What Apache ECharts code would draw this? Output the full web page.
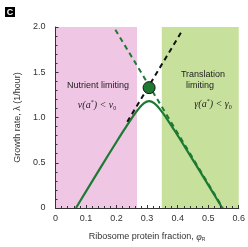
<!DOCTYPE html>
<html><head><meta charset="utf-8">
<script src="https://cdn.jsdelivr.net/npm/echarts@6/dist/echarts.min.js"></script>
<style>html,body{margin:0;padding:0;background:#fff}#c{width:248px;height:247px}</style>
</head><body><div id="c"></div>
<script>
// Data
var phiR = [0.067, 0.1, 0.15, 0.2, 0.225, 0.25, 0.27, 0.29, 0.3065, 0.323, 0.343, 0.363, 0.388, 0.413, 0.463, 0.513, 0.546];
var growth = [0, 0.184, 0.46, 0.732, 0.865, 0.993, 1.087, 1.159, 1.182, 1.159, 1.087, 0.993, 0.865, 0.732, 0.46, 0.184, 0];
var translationAsymptote = [[0.196, 1.97], [0.548, 0]];
var nutrientAsymptote = [[0.235, 0.952], [0.413, 1.95]];
var crossingPoint = [[0.3065, 1.33]];
var nutrientRegion = [0, 0.267];
var translationRegion = [0.348, 0.6];
var xTicks = ['0', '0.1', '0.2', '0.3', '0.4', '0.5', '0.6'];
var yTicks = ['0', '0.5', '1.0', '1.5', '2.0'];

var chart = echarts.init(document.getElementById('c'));
var green = '#1d7a32';
var font = 'Liberation Sans, Arial, sans-serif';
var serif = 'Liberation Serif, Times New Roman, serif';
chart.setOption({
  animation: false,
  grid: {left: 55.5, right: 7, top: 27, bottom: 32},
  xAxis: {
    type: 'value', min: 0, max: 0.6, interval: 0.1, z: 10,
    axisLine: {lineStyle: {color: '#333', width: 1}},
    axisTick: {inside: true, length: 3, lineStyle: {color: '#333'}},
    minorTick: {show: true, splitNumber: 5, length: 2, lineStyle: {color: '#333'}},
    splitLine: {show: false},
    axisLabel: {margin: 6, fontSize: 9, fontFamily: font, color: '#333',
      formatter: function (v) { return xTicks[Math.round(v * 10)]; }},
    name: 'Ribosome protein fraction, {i|φ}{s|R}', nameLocation: 'middle', nameGap: 24,
    nameTextStyle: {fontSize: 9, fontFamily: font, color: '#333',
      rich: {i: {fontSize: 10, fontStyle: 'italic', fontFamily: serif, color: '#333'},
             s: {fontSize: 5, verticalAlign: 'bottom', padding: [4, 0, 0, 0], color: '#333'}}}
  },
  yAxis: {
    type: 'value', min: 0, max: 2, interval: 0.5, z: 10,
    axisLine: {show: true, lineStyle: {color: '#333', width: 1}},
    axisTick: {show: true, inside: true, length: 3, lineStyle: {color: '#333'}},
    minorTick: {show: true, splitNumber: 5, length: 2, lineStyle: {color: '#333'}},
    splitLine: {show: false},
    axisLabel: {margin: 10, fontSize: 9, fontFamily: font, color: '#333',
      formatter: function (v) { return yTicks[Math.round(v * 2)]; }},
    name: 'Growth rate, λ (1/hour)', nameLocation: 'middle', nameGap: 30, nameRotate: 90,
    nameTextStyle: {fontSize: 9, fontFamily: font, color: '#333'}
  },
  graphic: [
    {type: 'rect', shape: {x: 5, y: 7, width: 10, height: 10}, style: {fill: '#000'}},
    {type: 'text', x: 10, y: 12.5, style: {text: 'C', fill: '#fff', font: 'bold 9px ' + font, align: 'center', verticalAlign: 'middle'}},
    {type: 'text', x: 98, y: 86, z: 10, style: {text: 'Nutrient limiting', fill: '#222', font: '9px ' + font, align: 'center', verticalAlign: 'middle'}},
    {type: 'text', x: 97, y: 105, z: 10, style: {text: '{i|ν(a}{sup|*}{i|) < ν}{sub|0}', align: 'center', verticalAlign: 'middle',
      rich: {i: {fontSize: 10, fontStyle: 'italic', fontFamily: serif, fill: '#222'},
             sup: {fontSize: 6, fontFamily: serif, fill: '#222', verticalAlign: 'top', padding: [0, 0, 6, 0]},
             sub: {fontSize: 6, fontFamily: serif, fill: '#222', verticalAlign: 'bottom', padding: [4, 0, 0, 0]}}}},
    {type: 'text', x: 203, y: 75, z: 10, style: {text: 'Translation', fill: '#222', font: '9px ' + font, align: 'center', verticalAlign: 'middle'}},
    {type: 'text', x: 200, y: 86, z: 10, style: {text: 'limiting', fill: '#222', font: '9px ' + font, align: 'center', verticalAlign: 'middle'}},
    {type: 'text', x: 213, y: 104, z: 10, style: {text: '{i|γ(a}{sup|*}{i|) < γ}{sub|0}', align: 'center', verticalAlign: 'middle',
      rich: {i: {fontSize: 10, fontStyle: 'italic', fontFamily: serif, fill: '#222'},
             sup: {fontSize: 6, fontFamily: serif, fill: '#222', verticalAlign: 'top', padding: [0, 0, 6, 0]},
             sub: {fontSize: 6, fontFamily: serif, fill: '#222', verticalAlign: 'bottom', padding: [4, 0, 0, 0]}}}}
  ],
  series: [
    {type: 'line', data: [], z: 1, silent: true,
      markArea: {silent: true, data: [
        [{xAxis: nutrientRegion[0], yAxis: 0, itemStyle: {color: '#efc7e4'}}, {xAxis: nutrientRegion[1], yAxis: 2}],
        [{xAxis: translationRegion[0], yAxis: 0, itemStyle: {color: '#c7e19c'}}, {xAxis: translationRegion[1], yAxis: 2}]
      ]}},
    {type: 'line', data: phiR.map(function (x, i) { return [x, growth[i]]; }), smooth: 0.4, showSymbol: false, z: 3,
      lineStyle: {color: green, width: 2.2}},
    {type: 'line', data: translationAsymptote, showSymbol: false, z: 4,
      lineStyle: {color: green, width: 2, type: [5, 4]}},
    {type: 'line', data: nutrientAsymptote, showSymbol: false, z: 4,
      lineStyle: {color: '#111', width: 2, type: [5, 4]}},
    {type: 'scatter', data: crossingPoint, symbolSize: 12, z: 5,
      itemStyle: {color: green, borderColor: '#111', borderWidth: 1, opacity: 1}}
  ]
});
</script></body></html>
